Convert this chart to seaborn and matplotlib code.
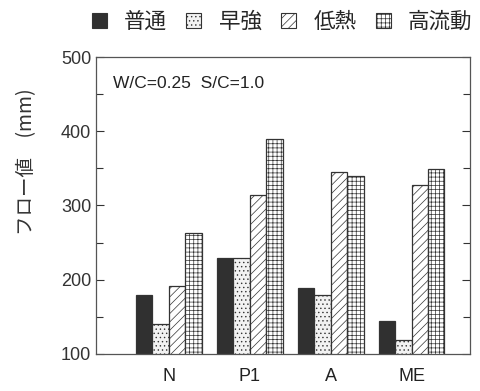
import matplotlib
matplotlib.use("Agg")
import matplotlib.pyplot as plt
from matplotlib.patches import Patch
from matplotlib.ticker import MultipleLocator
import seaborn as sns
import pandas as pd

categories = ["N", "P1", "A", "ME"]
series_names = ["普通", "早強", "低熱", "高流動"]
futsu = [180, 229, 189, 144]
sokyo = [140, 229, 179, 119]
teinetsu = [192, 314, 345, 327]
koryudo = [263, 390, 340, 349]
yticks = [100, 200, 300, 400, 500]

sns.set_theme(style="white")
plt.rcParams['font.family'] = ['Liberation Sans', 'Noto Sans CJK JP', 'DejaVu Sans']
plt.rcParams['hatch.color'] = '#666666'
plt.rcParams['hatch.linewidth'] = 0.5

rows = []
for name, vals in zip(series_names, [futsu, sokyo, teinetsu, koryudo]):
    for c, v in zip(categories, vals):
        rows.append({"cat": c, "series": name, "value": v})
df = pd.DataFrame(rows)

fills = ["#303030", "#f2f2f2", "#ffffff", "#ffffff"]
hatches = [None, "....", "////", "++++"]
edge = "#333333"

fig = plt.figure(figsize=(4.81, 3.91), dpi=100)
ax = fig.add_axes([96/481, 1-354/391, (470-96)/481, (354-57)/391])

sns.barplot(data=df, x="cat", y="value", hue="series", order=categories,
            hue_order=series_names, palette=fills, ax=ax, legend=False,
            width=0.81, saturation=1, edgecolor=edge, linewidth=0.9)
for cont, h, f in zip(ax.containers, hatches, fills):
    for p in cont:
        p.set_facecolor(f)
        p.set_edgecolor(edge)
        if h:
            p.set_hatch(h)

ax.set_ylim(100, 500)
ax.set_xlim(-0.90, 3.72)
ax.set_yticks(yticks)
ax.yaxis.set_minor_locator(MultipleLocator(50))
ax.tick_params(axis='y', which='both', direction='in', left=True, right=True,
               labelsize=13, colors='#333333')
ax.tick_params(axis='y', which='major', length=6, width=0.8)
ax.tick_params(axis='y', which='minor', length=5, width=0.8)
ax.tick_params(axis='x', length=0, labelsize=13, pad=10, colors='#222222')
ax.set_xlabel("")
ax.set_ylabel("")
for s in ax.spines.values():
    s.set_color('#555555')
    s.set_linewidth(0.9)

fig.text(27/481, 1-162/391, "フロー値　(mm)", rotation=90, ha='center', va='center',
         fontsize=14, color='#333333', family=['Noto Sans CJK JP', 'DejaVu Sans'])
ax.text(0.045, 0.91, "W/C=0.25  S/C=1.0", transform=ax.transAxes, fontsize=12.5,
        color='#222222', ha='left', va='center')

handles = [Patch(facecolor=f, edgecolor=edge, hatch=h, linewidth=0.8)
           for f, h in zip(fills, hatches)]
fig.legend(handles, series_names, loc='center', bbox_to_anchor=(282/481, 1-22/391),
           ncol=4, frameon=False, handlelength=0.7, handleheight=0.7,
           handletextpad=0.8, columnspacing=0.9, borderpad=0, borderaxespad=0,
           prop={'family': 'Noto Sans CJK JP', 'size': 15.5})

fig.savefig("out.png", dpi=100)
